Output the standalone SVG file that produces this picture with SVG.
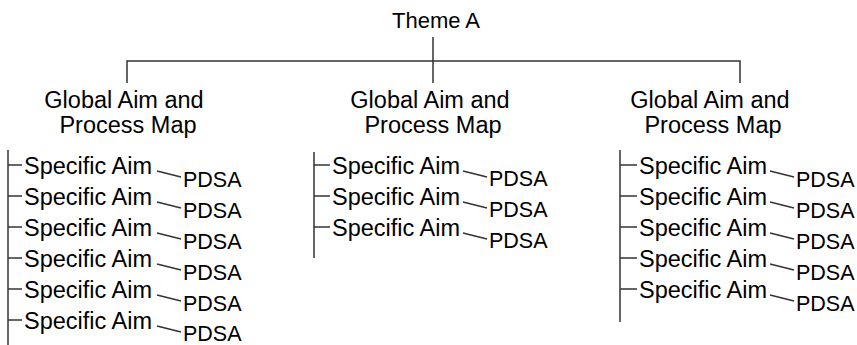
<svg xmlns="http://www.w3.org/2000/svg" width="857" height="345" viewBox="0 0 857 345">
<style>
text{font-family:"Liberation Sans",Arial,sans-serif;fill:#000}
.t{font-size:22px}
.g{font-size:23.5px}
.s{font-size:23.5px}
.p{font-size:21.5px}
line,polyline{stroke:#333;stroke-width:1.5;fill:none}
</style>
<rect width="857" height="345" fill="#fff"/>
<g id="connectors">
<polyline points="127,83 127,61 740,61 740,83"/>
<line x1="433" y1="37" x2="433" y2="83"/>
<line x1="8" y1="150" x2="8" y2="345"/>
<line x1="314" y1="152" x2="314" y2="258"/>
<line x1="620" y1="150" x2="620" y2="322"/>
</g>
<g id="theme"><text class="t" x="436" y="28" text-anchor="middle">Theme A</text></g>
<g id="global1">
<text class="g" x="124" y="108" text-anchor="middle">Global Aim and</text>
<text class="g" x="128" y="133" text-anchor="middle">Process Map</text>
</g>
<g id="global2">
<text class="g" x="430" y="108" text-anchor="middle">Global Aim and</text>
<text class="g" x="433" y="133" text-anchor="middle">Process Map</text>
</g>
<g id="global3">
<text class="g" x="710" y="108" text-anchor="middle">Global Aim and</text>
<text class="g" x="713" y="133" text-anchor="middle">Process Map</text>
</g>
<g id="col1">
<g id="c1r1"><line x1="8" y1="165" x2="22" y2="165"/><text class="s" x="24" y="174">Specific Aim</text><line x1="157" y1="171" x2="181" y2="177"/><text class="p" x="183" y="187">PDSA</text></g>
<g id="c1r2"><line x1="8" y1="196" x2="22" y2="196"/><text class="s" x="24" y="205">Specific Aim</text><line x1="157" y1="202" x2="181" y2="208"/><text class="p" x="183" y="218">PDSA</text></g>
<g id="c1r3"><line x1="8" y1="227" x2="22" y2="227"/><text class="s" x="24" y="236">Specific Aim</text><line x1="157" y1="233" x2="181" y2="239"/><text class="p" x="183" y="249">PDSA</text></g>
<g id="c1r4"><line x1="8" y1="258" x2="22" y2="258"/><text class="s" x="24" y="267">Specific Aim</text><line x1="157" y1="264" x2="181" y2="270"/><text class="p" x="183" y="280">PDSA</text></g>
<g id="c1r5"><line x1="8" y1="289" x2="22" y2="289"/><text class="s" x="24" y="298">Specific Aim</text><line x1="157" y1="295" x2="181" y2="301"/><text class="p" x="183" y="311">PDSA</text></g>
<g id="c1r6"><line x1="8" y1="320" x2="22" y2="320"/><text class="s" x="24" y="329">Specific Aim</text><line x1="157" y1="326" x2="181" y2="332"/><text class="p" x="183" y="341">PDSA</text></g>
</g>
<g id="col2">
<g id="c2r1"><line x1="314" y1="165" x2="330" y2="165"/><text class="s" x="332" y="174">Specific Aim</text><line x1="463" y1="171" x2="487" y2="177"/><text class="p" x="489" y="186">PDSA</text></g>
<g id="c2r2"><line x1="314" y1="196" x2="330" y2="196"/><text class="s" x="332" y="205">Specific Aim</text><line x1="463" y1="202" x2="487" y2="208"/><text class="p" x="489" y="217">PDSA</text></g>
<g id="c2r3"><line x1="314" y1="227" x2="330" y2="227"/><text class="s" x="332" y="236">Specific Aim</text><line x1="463" y1="233" x2="487" y2="239"/><text class="p" x="489" y="248">PDSA</text></g>
</g>
<g id="col3">
<g id="c3r1"><line x1="620" y1="165" x2="637" y2="165"/><text class="s" x="639" y="174">Specific Aim</text><line x1="770" y1="171" x2="794" y2="177"/><text class="p" x="796" y="187">PDSA</text></g>
<g id="c3r2"><line x1="620" y1="196" x2="637" y2="196"/><text class="s" x="639" y="205">Specific Aim</text><line x1="770" y1="202" x2="794" y2="208"/><text class="p" x="796" y="218">PDSA</text></g>
<g id="c3r3"><line x1="620" y1="227" x2="637" y2="227"/><text class="s" x="639" y="236">Specific Aim</text><line x1="770" y1="233" x2="794" y2="239"/><text class="p" x="796" y="249">PDSA</text></g>
<g id="c3r4"><line x1="620" y1="258" x2="637" y2="258"/><text class="s" x="639" y="267">Specific Aim</text><line x1="770" y1="264" x2="794" y2="270"/><text class="p" x="796" y="280">PDSA</text></g>
<g id="c3r5"><line x1="620" y1="289" x2="637" y2="289"/><text class="s" x="639" y="298">Specific Aim</text><line x1="770" y1="295" x2="794" y2="301"/><text class="p" x="796" y="311">PDSA</text></g>
</g>
</svg>
